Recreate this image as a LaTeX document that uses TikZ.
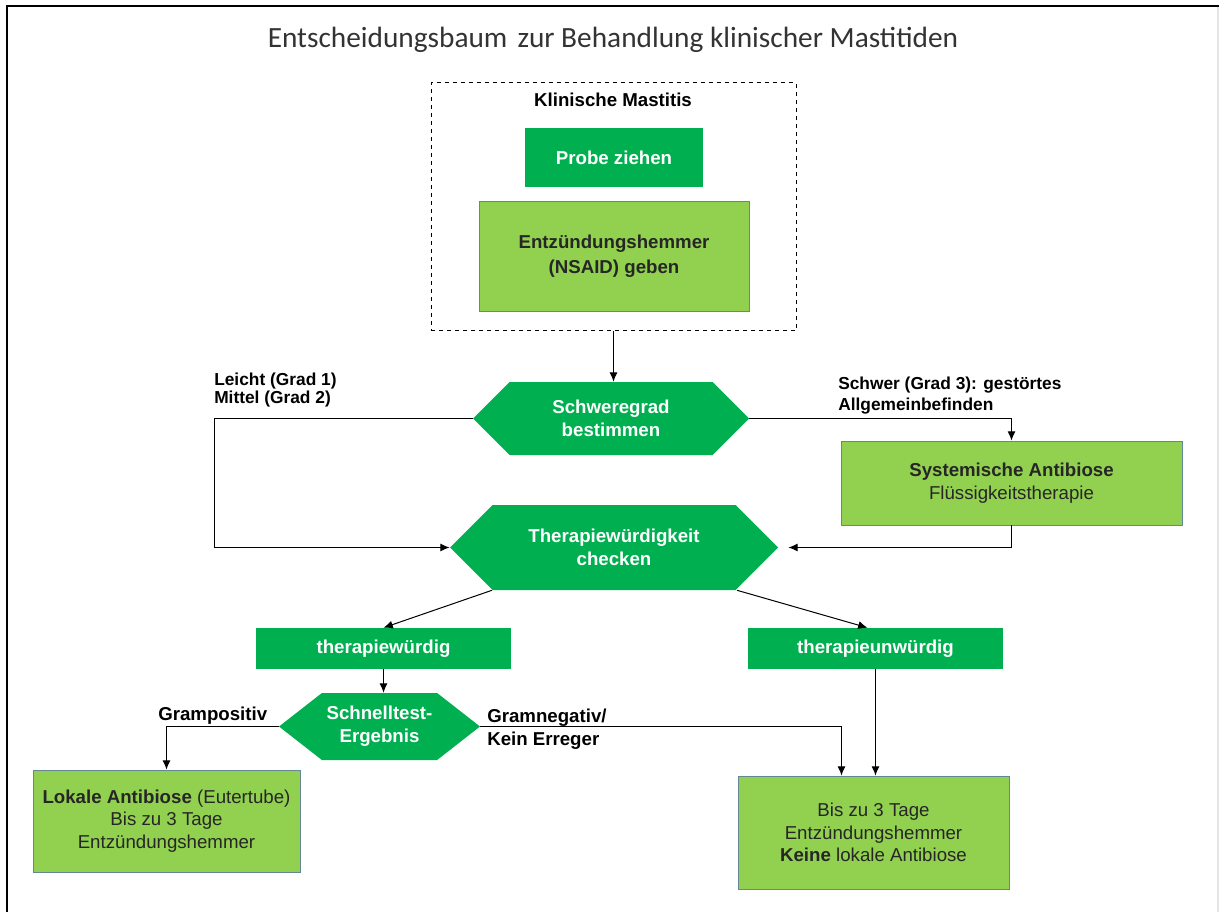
\documentclass[tikz,border=0pt]{standalone}
\usepackage{fontspec}
\setmainfont{Liberation Sans}
\newfontfamily\titelfont{Carlito}
\usepackage{tikz}
\usetikzlibrary{arrows,arrows.meta,calc,shapes.symbols}
\definecolor{dunkelgruen}{RGB}{0,176,80}
\definecolor{hellgruen}{RGB}{146,208,80}
\definecolor{randblau}{RGB}{100,135,150}
\def\u{0.75pt}
\tikzset{
  kasten/.style={rectangle, fill=hellgruen, draw=randblau, line width=0.6pt,
    align=center, text=black!85, font=\fontsize{14}{17}\selectfont},
  gruenkasten/.style={rectangle, fill=dunkelgruen, text=white, align=center,
    font=\fontsize{14}{17}\selectfont\bfseries},
  sechseck/.style={signal, signal to=east and west, fill=dunkelgruen,
    text=white, align=center, inner sep=0pt,
    font=\fontsize{14}{17}\selectfont\bfseries},
  pfeil/.style={-{Latex[length=7pt,width=6pt]}, line width=0.75pt},
  beschr/.style={align=left, inner sep=0pt, font=\fontsize{14}{17}\selectfont\bfseries}
}

\begin{document}
\begin{tikzpicture}[x=0.75pt, y=-0.75pt]
    \useasboundingbox (0,0) rectangle (1219,912);

    % Rahmen
    \draw[black!10, line width=1pt] (1218,6) -- (1218,912);
    \draw[black, line width=2pt] (7,912) -- (7,6) -- (1219,6);

    \node[font=\titelfont\fontsize{22}{26}\selectfont, text=black!80] (titel) at (613,40)
      {Entscheidungsbaum\hspace{0.12em} zur Behandlung klinischer Mastitiden};

    % Klinische Mastitis
    \node[draw, dashed, line width=0.75pt, minimum width=365*\u, minimum height=248*\u] (mastitis) at (613.5,207) {};
    \node[beschr] (kmtitel) at (613,100) {Klinische Mastitis};
    \node[gruenkasten, minimum width=178*\u, minimum height=59*\u] (probe) at (614,157.5) {Probe ziehen};
    \node[kasten, minimum width=270*\u, minimum height=110*\u, font=\fontsize{14}{19}\selectfont\bfseries] (nsaid) at (614,256)
      {Entzündungshemmer\\(NSAID) geben};

    % Entscheidungen
    \node[sechseck, minimum width=276*\u, minimum height=73*\u] (schwere) at (611,418.5) {Schweregrad\\bestimmen};
    \node[kasten, minimum width=341*\u, minimum height=84*\u] (sys) at (1011.5,483)
      {\textbf{Systemische Antibiose}\\Flüssigkeitstherapie};
    \node[sechseck, minimum width=328*\u, minimum height=85*\u] (therapie) at (614,547.5) {Therapiewürdigkeit\\checken};
    \node[gruenkasten, minimum width=255*\u, minimum height=41*\u] (tw) at (383.5,648.5) {therapiewürdig};
    \node[gruenkasten, minimum width=255*\u, minimum height=41*\u] (tuw) at (875.5,648.5) {therapieunwürdig};
    \node[sechseck, signal pointer angle=76, minimum width=201*\u, minimum height=67*\u] (schnell) at (379.5,726.5)
      {Schnelltest-\\Ergebnis};
    \node[kasten, minimum width=267*\u, minimum height=102*\u] (lokal) at (166.5,821)
      {\textbf{Lokale Antibiose} (Eutertube)\\Bis zu 3 Tage\\Entzündungshemmer};
    \node[kasten, minimum width=271*\u, minimum height=113*\u] (bis) at (873.5,832.5)
      {Bis zu 3 Tage\\Entzündungshemmer\\\textbf{Keine} lokale Antibiose};

    % Beschriftungen
    \node[beschr, anchor=north west, font=\fontsize{13}{13.5}\selectfont\bfseries] (leicht) at (214,373)
      {Leicht (Grad 1)\\Mittel (Grad 2)};
    \node[beschr, anchor=north west, font=\fontsize{13}{15.5}\selectfont\bfseries] (schwer) at (838,377)
      {Schwer (Grad 3): gestörtes\\Allgemeinbefinden};
    \node[beschr, anchor=north west] (grampos) at (158,707) {Grampositiv};
    \node[beschr, anchor=north west] (gramneg) at (487,709) {Gramnegativ/\\Kein Erreger};

    % Pfeile
    \coordinate (lk) at (214,0);
    \draw[pfeil] (mastitis.south) -- (mastitis.south |- schwere.north);
    \draw[pfeil] (schwere.west) -- (schwere.west -| lk) |- (therapie.west);
    \draw[pfeil] (schwere.east) -| (sys.north);
    \draw[pfeil, shorten >=10*\u] (sys.south) |- (therapie.east);
    \draw[pfeil] ($(therapie.south)+(-122,0)$) -- (tw.north);
    \draw[pfeil] ($(therapie.south)+(123,0)$) -- ($(tuw.north)+(-8,0)$);
    \draw[pfeil] (tw.south) -- (tw.south |- schnell.north);
    \draw[pfeil] (schnell.west) -| (lokal.north);
    \draw[pfeil] (schnell.east) -| ($(bis.north)+(-32,0)$);
    \draw[pfeil] (tuw.south) -- (tuw.south |- bis.north);
\end{tikzpicture}
\end{document}
